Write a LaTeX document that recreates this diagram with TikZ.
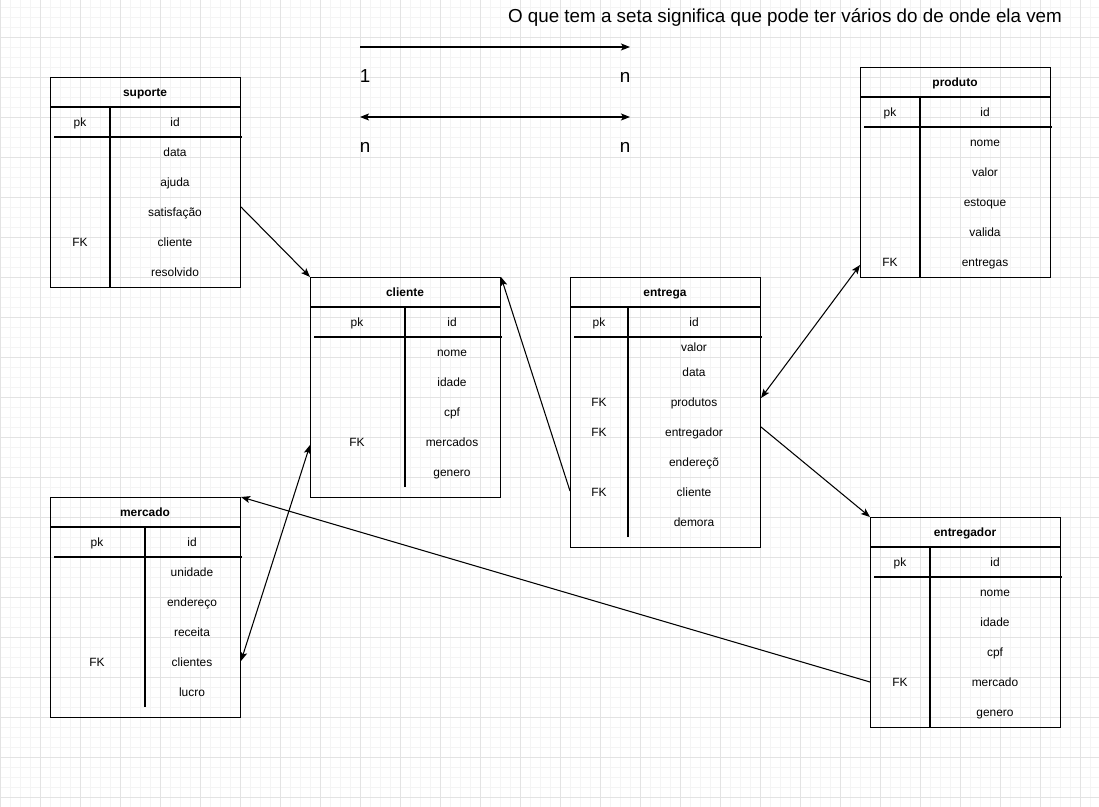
\documentclass[tikz,border=0pt]{standalone}
\usepackage{fontspec}
\setmainfont{Liberation Sans}
\usetikzlibrary{arrows.meta,calc}
\definecolor{gridmajor}{HTML}{E3E3E3}
\definecolor{gridminor}{HTML}{F4F4F4}
\begin{document}
\begin{tikzpicture}[x=0.02cm,y=-0.02cm,
		tbl/.style={draw=black,line width=0.6pt,anchor=north west,minimum width=3.8cm,inner sep=0pt},
		cell/.style={font=\fontsize{6.8}{8}\selectfont,text height=6.2pt,text depth=1.4pt,inner sep=0pt},
		ttl/.style={cell,font=\fontsize{6.8}{8}\selectfont\bfseries},
		big/.style={font=\fontsize{10.7}{13}\selectfont,text height=9pt,text depth=2.2pt,inner sep=0pt},
		sep/.style={line width=0.6pt},
		head/.tip={Stealth[length=0.18cm,width=0.14cm,inset=0.04cm]},
		rel/.style={line width=0.6pt,-head},
		relboth/.style={line width=0.6pt,head-head}]
	\useasboundingbox (0,0) rectangle (1099,807);
	% grade
	\foreach \gx in {0,10,...,1090} \draw[gridminor,line width=0.5pt] (\gx,0) -- (\gx,807);
	\foreach \gy in {7,17,...,797} \draw[gridminor,line width=0.5pt] (0,\gy) -- (1099,\gy);
	\foreach \gx in {0,40,...,1080} \draw[gridmajor,line width=0.5pt] (\gx,0) -- (\gx,807);
	\foreach \gy in {37,77,...,797} \draw[gridmajor,line width=0.5pt] (0,\gy) -- (1099,\gy);

	% legenda
	\node[big] (nota) at (785,17) {O que tem a seta significa que pode ter vários do de onde ela vem};
	\coordinate (um-a) at (360,47);
	\coordinate (um-b) at (630,47);
	\coordinate (nn-a) at (360,117);
	\coordinate (nn-b) at (630,117);
	\draw[rel] (um-a) -- (um-b);
	\draw[relboth] (nn-a) -- (nn-b);
	\node[big] (um-1) at (365,77) {1};
	\node[big] (um-n) at (625,77) {n};
	\node[big] (nn-1) at (365,147) {n};
	\node[big] (nn-n) at (625,147) {n};

	% suporte
	\node[tbl,minimum height=4.2cm] (suporte) at (50,77) {};
	\draw[sep] (50,107) -- (240,107) (110,107) -- (110,287) (54,137) -- (242,137);
	\node[ttl] (sup-t) at (145,92) {suporte};
	\node[cell] (sup-pk) at (80,122) {pk};
	\node[cell] (sup-id) at (175,122) {id};
	\node[cell] (sup-data) at (175,152) {data};
	\node[cell] (sup-ajuda) at (175,182) {ajuda};
	\node[cell] (sup-satisf) at (175,212) {satisfação};
	\node[cell] (sup-fk) at (80,242) {FK};
	\node[cell] (sup-cliente) at (175,242) {cliente};
	\node[cell] (sup-resolv) at (175,272) {resolvido};

	% cliente
	\node[tbl,minimum height=4.4cm] (cliente) at (310,277) {};
	\draw[sep] (310,307) -- (500,307) (405,307) -- (405,487) (314,337) -- (502,337);
	\node[ttl] (cli-t) at (405,292) {cliente};
	\node[cell] (cli-pk) at (357,322) {pk};
	\node[cell] (cli-id) at (452,322) {id};
	\node[cell] (cli-nome) at (452,352) {nome};
	\node[cell] (cli-idade) at (452,382) {idade};
	\node[cell] (cli-cpf) at (452,412) {cpf};
	\node[cell] (cli-fk) at (357,442) {FK};
	\node[cell] (cli-merc) at (452,442) {mercados};
	\node[cell] (cli-gen) at (452,472) {genero};

	% entrega
	\node[tbl,minimum height=5.4cm] (entrega) at (570,277) {};
	\draw[sep] (570,307) -- (760,307) (628,307) -- (628,537) (574,337) -- (762,337);
	\node[ttl] (ent-t) at (665,292) {entrega};
	\node[cell] (ent-pk) at (599,322) {pk};
	\node[cell] (ent-id) at (694,322) {id};
	\node[cell] (ent-valor) at (694,347) {valor};
	\node[cell] (ent-data) at (694,372) {data};
	\node[cell] (ent-fk1) at (599,402) {FK};
	\node[cell] (ent-prod) at (694,402) {produtos};
	\node[cell] (ent-fk2) at (599,432) {FK};
	\node[cell] (ent-entr) at (694,432) {entregador};
	\node[cell] (ent-end) at (694,462) {endereçõ};
	\node[cell] (ent-fk3) at (599,492) {FK};
	\node[cell] (ent-cli) at (694,492) {cliente};
	\node[cell] (ent-dem) at (694,522) {demora};

	% produto
	\node[tbl,minimum height=4.2cm] (produto) at (860,67) {};
	\draw[sep] (860,97) -- (1050,97) (920,97) -- (920,277) (864,127) -- (1052,127);
	\node[ttl] (pro-t) at (955,82) {produto};
	\node[cell] (pro-pk) at (890,112) {pk};
	\node[cell] (pro-id) at (985,112) {id};
	\node[cell] (pro-nome) at (985,142) {nome};
	\node[cell] (pro-valor) at (985,172) {valor};
	\node[cell] (pro-est) at (985,202) {estoque};
	\node[cell] (pro-val) at (985,232) {valida};
	\node[cell] (pro-fk) at (890,262) {FK};
	\node[cell] (pro-ent) at (985,262) {entregas};

	% mercado
	\node[tbl,minimum height=4.4cm] (mercado) at (50,497) {};
	\draw[sep] (50,527) -- (240,527) (145,527) -- (145,707) (54,557) -- (242,557);
	\node[ttl] (mer-t) at (145,512) {mercado};
	\node[cell] (mer-pk) at (97,542) {pk};
	\node[cell] (mer-id) at (192,542) {id};
	\node[cell] (mer-uni) at (192,572) {unidade};
	\node[cell] (mer-end) at (192,602) {endereço};
	\node[cell] (mer-rec) at (192,632) {receita};
	\node[cell] (mer-fk) at (97,662) {FK};
	\node[cell] (mer-cli) at (192,662) {clientes};
	\node[cell] (mer-lucro) at (192,692) {lucro};

	% entregador
	\node[tbl,minimum height=4.2cm] (entregador) at (870,517) {};
	\draw[sep] (870,547) -- (1060,547) (930,547) -- (930,727) (874,577) -- (1062,577);
	\node[ttl] (edr-t) at (965,532) {entregador};
	\node[cell] (edr-pk) at (900,562) {pk};
	\node[cell] (edr-id) at (995,562) {id};
	\node[cell] (edr-nome) at (995,592) {nome};
	\node[cell] (edr-idade) at (995,622) {idade};
	\node[cell] (edr-cpf) at (995,652) {cpf};
	\node[cell] (edr-fk) at (900,682) {FK};
	\node[cell] (edr-merc) at (995,682) {mercado};
	\node[cell] (edr-gen) at (995,712) {genero};

	% relacoes
	\draw[rel] ($(suporte.north east)+(0,130)$) -- (cliente.north west);
	\draw[rel] ($(entrega.north west)+(0,214)$) -- (cliente.north east);
	\draw[relboth] ($(mercado.north east)+(0,164)$) -- ($(cliente.north west)+(0,168)$);
	\draw[relboth] ($(entrega.north east)+(0,121)$) -- ($(produto.north west)+(0,198)$);
	\draw[rel] ($(entrega.north east)+(0,150)$) -- (entregador.north west);
	\draw[rel] ($(entregador.north west)+(0,165)$) -- (mercado.north east);
\end{tikzpicture}
\end{document}
